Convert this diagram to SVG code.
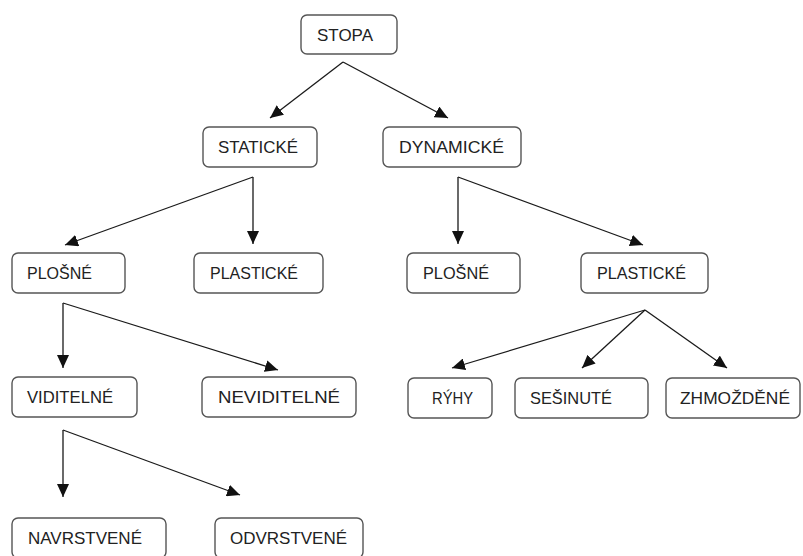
<svg xmlns="http://www.w3.org/2000/svg" width="803" height="556" viewBox="0 0 803 556">
<style>
.box{fill:#fff;stroke:#555;stroke-width:1.4}
.t{font-family:"Liberation Sans",Arial,sans-serif;font-size:17px;fill:#222}
.c{stroke:#1a1a1a;stroke-width:1.3;fill:none;marker-end:url(#ah)}
</style>
<defs>
<marker id="ah" markerUnits="userSpaceOnUse" markerWidth="14" markerHeight="12" viewBox="0 0 14 12" refX="13" refY="6" orient="auto">
<path d="M0,0 L13,6 L0,12 Z" fill="#111"/>
</marker>
</defs>
<rect width="803" height="556" fill="#fff"/>
<g id="connectors">
<line class="c" x1="343" y1="62" x2="270" y2="118"/>
<line class="c" x1="343" y1="62" x2="448" y2="118"/>
<line class="c" x1="253" y1="177" x2="65" y2="245"/>
<line class="c" x1="253" y1="177" x2="253" y2="244"/>
<line class="c" x1="458" y1="177" x2="458" y2="244"/>
<line class="c" x1="458" y1="177" x2="643" y2="245"/>
<line class="c" x1="63" y1="303" x2="63" y2="368"/>
<line class="c" x1="63" y1="303" x2="278" y2="370"/>
<line class="c" x1="645" y1="310" x2="452" y2="368"/>
<line class="c" x1="645" y1="310" x2="582" y2="368"/>
<line class="c" x1="645" y1="310" x2="727" y2="368"/>
<line class="c" x1="63" y1="430" x2="63" y2="497"/>
<line class="c" x1="63" y1="430" x2="240" y2="495"/>
</g>
<g id="stopa"><rect class="box" x="301" y="15" width="96" height="39" rx="6"/><text class="t" x="317" y="41" textLength="56" lengthAdjust="spacingAndGlyphs">STOPA</text></g>
<g id="staticke"><rect class="box" x="203" y="127" width="114" height="40" rx="6"/><text class="t" x="218" y="153" textLength="80" lengthAdjust="spacingAndGlyphs">STATICKÉ</text></g>
<g id="dynamicke"><rect class="box" x="383" y="127" width="138" height="40" rx="6"/><text class="t" x="399" y="153" textLength="105" lengthAdjust="spacingAndGlyphs">DYNAMICKÉ</text></g>
<g id="plosne1"><rect class="box" x="12" y="253" width="113" height="40" rx="6"/><text class="t" x="27" y="279" textLength="65" lengthAdjust="spacingAndGlyphs">PLOŠNÉ</text></g>
<g id="plasticke1"><rect class="box" x="194" y="253" width="129" height="40" rx="6"/><text class="t" x="210" y="279" textLength="88" lengthAdjust="spacingAndGlyphs">PLASTICKÉ</text></g>
<g id="plosne2"><rect class="box" x="407" y="253" width="113" height="40" rx="6"/><text class="t" x="423" y="279" textLength="66" lengthAdjust="spacingAndGlyphs">PLOŠNÉ</text></g>
<g id="plasticke2"><rect class="box" x="581" y="253" width="127" height="40" rx="6"/><text class="t" x="597" y="279" textLength="89" lengthAdjust="spacingAndGlyphs">PLASTICKÉ</text></g>
<g id="viditelne"><rect class="box" x="12" y="377" width="125" height="40" rx="6"/><text class="t" x="27" y="403" textLength="86" lengthAdjust="spacingAndGlyphs">VIDITELNÉ</text></g>
<g id="neviditelne"><rect class="box" x="202" y="377" width="154" height="40" rx="6"/><text class="t" x="218" y="403" textLength="122" lengthAdjust="spacingAndGlyphs">NEVIDITELNÉ</text></g>
<g id="ryhy"><rect class="box" x="408" y="378" width="84" height="40" rx="6"/><text class="t" x="432" y="404" textLength="41" lengthAdjust="spacingAndGlyphs">RÝHY</text></g>
<g id="sesinute"><rect class="box" x="515" y="378" width="133" height="40" rx="6"/><text class="t" x="530" y="404" textLength="82" lengthAdjust="spacingAndGlyphs">SEŠINUTÉ</text></g>
<g id="zhmozdene"><rect class="box" x="666" y="378" width="134" height="40" rx="6"/><text class="t" x="680" y="404" textLength="110" lengthAdjust="spacingAndGlyphs">ZHMOŽDĚNÉ</text></g>
<g id="navrstvene"><rect class="box" x="12" y="518" width="154" height="40" rx="6"/><text class="t" x="28" y="544" textLength="114" lengthAdjust="spacingAndGlyphs">NAVRSTVENÉ</text></g>
<g id="odvrstvene"><rect class="box" x="215" y="518" width="148" height="40" rx="6"/><text class="t" x="230" y="544" textLength="117" lengthAdjust="spacingAndGlyphs">ODVRSTVENÉ</text></g>
</svg>
